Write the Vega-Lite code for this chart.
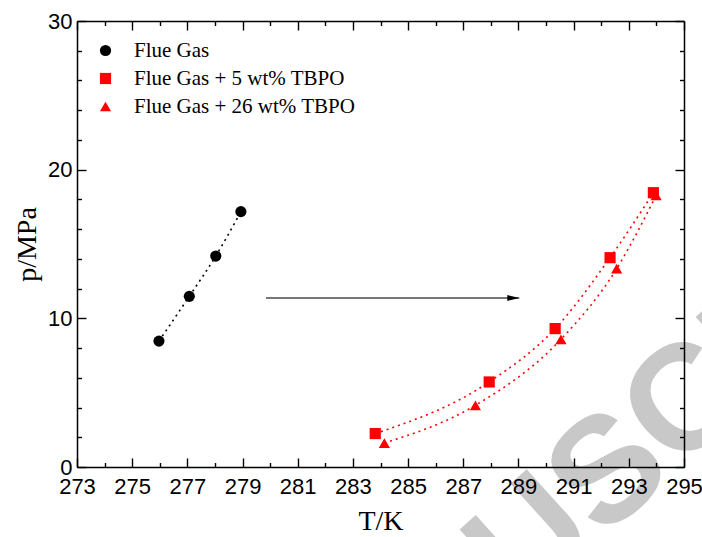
{
  "$schema": "https://vega.github.io/schema/vega-lite/v6.json",
  "width": 607,
  "height": 446,
  "autosize": "none",
  "padding": {"left": 77, "top": 21, "right": 18, "bottom": 70},
  "background": "white",
  "config": {
    "view": {"stroke": null},
    "axis": {
      "domainColor": "black",
      "domainWidth": 1.5,
      "tickColor": "black",
      "tickWidth": 1.4,
      "labelFont": "Liberation Sans",
      "labelFontSize": 22,
      "labelColor": "black",
      "titleFont": "Liberation Serif",
      "titleFontSize": 28,
      "titleFontWeight": "normal",
      "titleColor": "black",
      "grid": false,
      "labelOverlap": false,
      "labelFlush": false,
      "labelBound": false
    }
  },
  "datasets": {
    "pts": [
      {"series": "Flue Gas", "T": 275.97, "p": 8.47},
      {"series": "Flue Gas", "T": 277.07, "p": 11.48},
      {"series": "Flue Gas", "T": 278.03, "p": 14.19},
      {"series": "Flue Gas", "T": 278.94, "p": 17.18},
      {"series": "Flue Gas + 5 wt% TBPO", "T": 283.81, "p": 2.25},
      {"series": "Flue Gas + 5 wt% TBPO", "T": 287.94, "p": 5.72},
      {"series": "Flue Gas + 5 wt% TBPO", "T": 290.33, "p": 9.31},
      {"series": "Flue Gas + 5 wt% TBPO", "T": 292.32, "p": 14.08},
      {"series": "Flue Gas + 5 wt% TBPO", "T": 293.89, "p": 18.45},
      {"series": "Flue Gas + 26 wt% TBPO", "T": 284.14, "p": 1.61},
      {"series": "Flue Gas + 26 wt% TBPO", "T": 287.44, "p": 4.15},
      {"series": "Flue Gas + 26 wt% TBPO", "T": 290.54, "p": 8.59},
      {"series": "Flue Gas + 26 wt% TBPO", "T": 292.56, "p": 13.34},
      {"series": "Flue Gas + 26 wt% TBPO", "T": 293.99, "p": 18.27}
    ],
    "arrow": [{"x": 279.85, "x2": 289.03, "y": 11.37}],
    "wm": [{"text": "MANUSCRIPT", "x": 292.3, "y": -0.4}]
  },
  "data": {"name": "pts"},
  "layer": [
    {
      "data": {"name": "wm"},
      "mark": {"type": "text", "font": "Liberation Sans", "fontWeight": "bold", "fontSize": 150, "color": "#c8c8c8", "angle": -42, "align": "center", "baseline": "middle"},
      "encoding": {
        "x": {"field": "x", "type": "quantitative", "scale": {"domain": [273, 295], "nice": false, "zero": false}, "axis": null},
        "y": {"field": "y", "type": "quantitative", "scale": {"domain": [0, 30], "nice": false, "zero": false}, "axis": null},
        "text": {"field": "text"}
      }
    },
    {
      "mark": {"type": "line", "strokeDash": [2, 4], "strokeWidth": 1.6, "interpolate": "monotone"},
      "encoding": {
        "x": {"field": "T", "type": "quantitative", "axis": {
          "orient": "top", "labels": false, "title": null, "zindex": 2,
          "values": [273,274,275,276,277,278,279,280,281,282,283,284,285,286,287,288,289,290,291,292,293,294,295],
          "tickSize": {"condition": {"test": "datum.value % 2 == 1", "value": -9}, "value": -4.5}
        }},
        "y": {"field": "p", "type": "quantitative", "axis": {
          "orient": "right", "labels": false, "title": null, "zindex": 2,
          "values": [0,2,4,6,8,10,12,14,16,18,20,22,24,26,28,30],
          "tickSize": {"condition": {"test": "datum.value % 10 == 0", "value": -9}, "value": -4.5}
        }},
        "detail": {"field": "series"},
        "color": {"condition": {"test": "datum.series === 'Flue Gas'", "value": "black"}, "value": "red"}
      }
    },
    {
      "data": {"name": "arrow"},
      "mark": {"type": "rule", "color": "#777777", "strokeWidth": 2},
      "encoding": {
        "x": {"field": "x", "type": "quantitative", "axis": null},
        "x2": {"field": "x2"},
        "y": {"field": "y", "type": "quantitative", "axis": null}
      }
    },
    {
      "data": {"name": "arrow"},
      "mark": {"type": "point", "shape": "M-2,-0.5L0,0L-2,0.5Z", "size": 144, "filled": true, "color": "black", "opacity": 1},
      "encoding": {
        "x": {"field": "x2", "type": "quantitative", "axis": null},
        "y": {"field": "y", "type": "quantitative", "axis": null}
      }
    },
    {
      "mark": {"type": "point", "filled": true, "opacity": 1},
      "encoding": {
        "x": {"field": "T", "type": "quantitative", "axis": {
          "orient": "bottom", "title": "T/K", "titlePadding": 6, "zindex": 2,
          "values": [273,274,275,276,277,278,279,280,281,282,283,284,285,286,287,288,289,290,291,292,293,294,295],
          "labelExpr": "datum.value % 2 == 1 ? datum.label : ''",
          "labelPadding": 18,
          "tickSize": {"condition": {"test": "datum.value % 2 == 1", "value": -9}, "value": -4.5}
        }},
        "y": {"field": "p", "type": "quantitative", "axis": {
          "orient": "left", "title": "p/MPa", "titlePadding": 6, "zindex": 2,
          "values": [0,2,4,6,8,10,12,14,16,18,20,22,24,26,28,30],
          "labelExpr": "datum.value % 10 == 0 ? datum.label : ''",
          "labelPadding": 14,
          "tickSize": {"condition": {"test": "datum.value % 10 == 0", "value": -9}, "value": -4.5}
        }},
        "color": {"field": "series", "type": "nominal",
          "scale": {"domain": ["Flue Gas", "Flue Gas + 5 wt% TBPO", "Flue Gas + 26 wt% TBPO"], "range": ["black", "red", "red"]},
          "legend": {"orient": "none", "legendX": 18, "legendY": 19, "title": null, "labelFont": "Liberation Serif", "labelFontSize": 21, "labelColor": "black", "labelLimit": 500, "labelOffset": 18, "rowPadding": 6, "padding": 0, "symbolStrokeWidth": 0}},
        "shape": {"field": "series", "type": "nominal",
          "scale": {"domain": ["Flue Gas", "Flue Gas + 5 wt% TBPO", "Flue Gas + 26 wt% TBPO"], "range": ["circle", "square", "triangle-up"]},
          "legend": {"orient": "none", "legendX": 18, "legendY": 19, "title": null, "labelFont": "Liberation Serif", "labelFontSize": 21, "labelColor": "black", "labelLimit": 500, "labelOffset": 18, "rowPadding": 6, "padding": 0, "symbolStrokeWidth": 0}},
        "size": {"field": "series", "type": "nominal",
          "scale": {"domain": ["Flue Gas", "Flue Gas + 5 wt% TBPO", "Flue Gas + 26 wt% TBPO"], "range": [125, 125, 220]},
          "legend": {"orient": "none", "legendX": 18, "legendY": 19, "title": null, "labelFont": "Liberation Serif", "labelFontSize": 21, "labelColor": "black", "labelLimit": 500, "labelOffset": 18, "rowPadding": 6, "padding": 0, "symbolStrokeWidth": 0}}
      }
    }
  ],
  "resolve": {"axis": {"x": "independent", "y": "independent"}}
}
